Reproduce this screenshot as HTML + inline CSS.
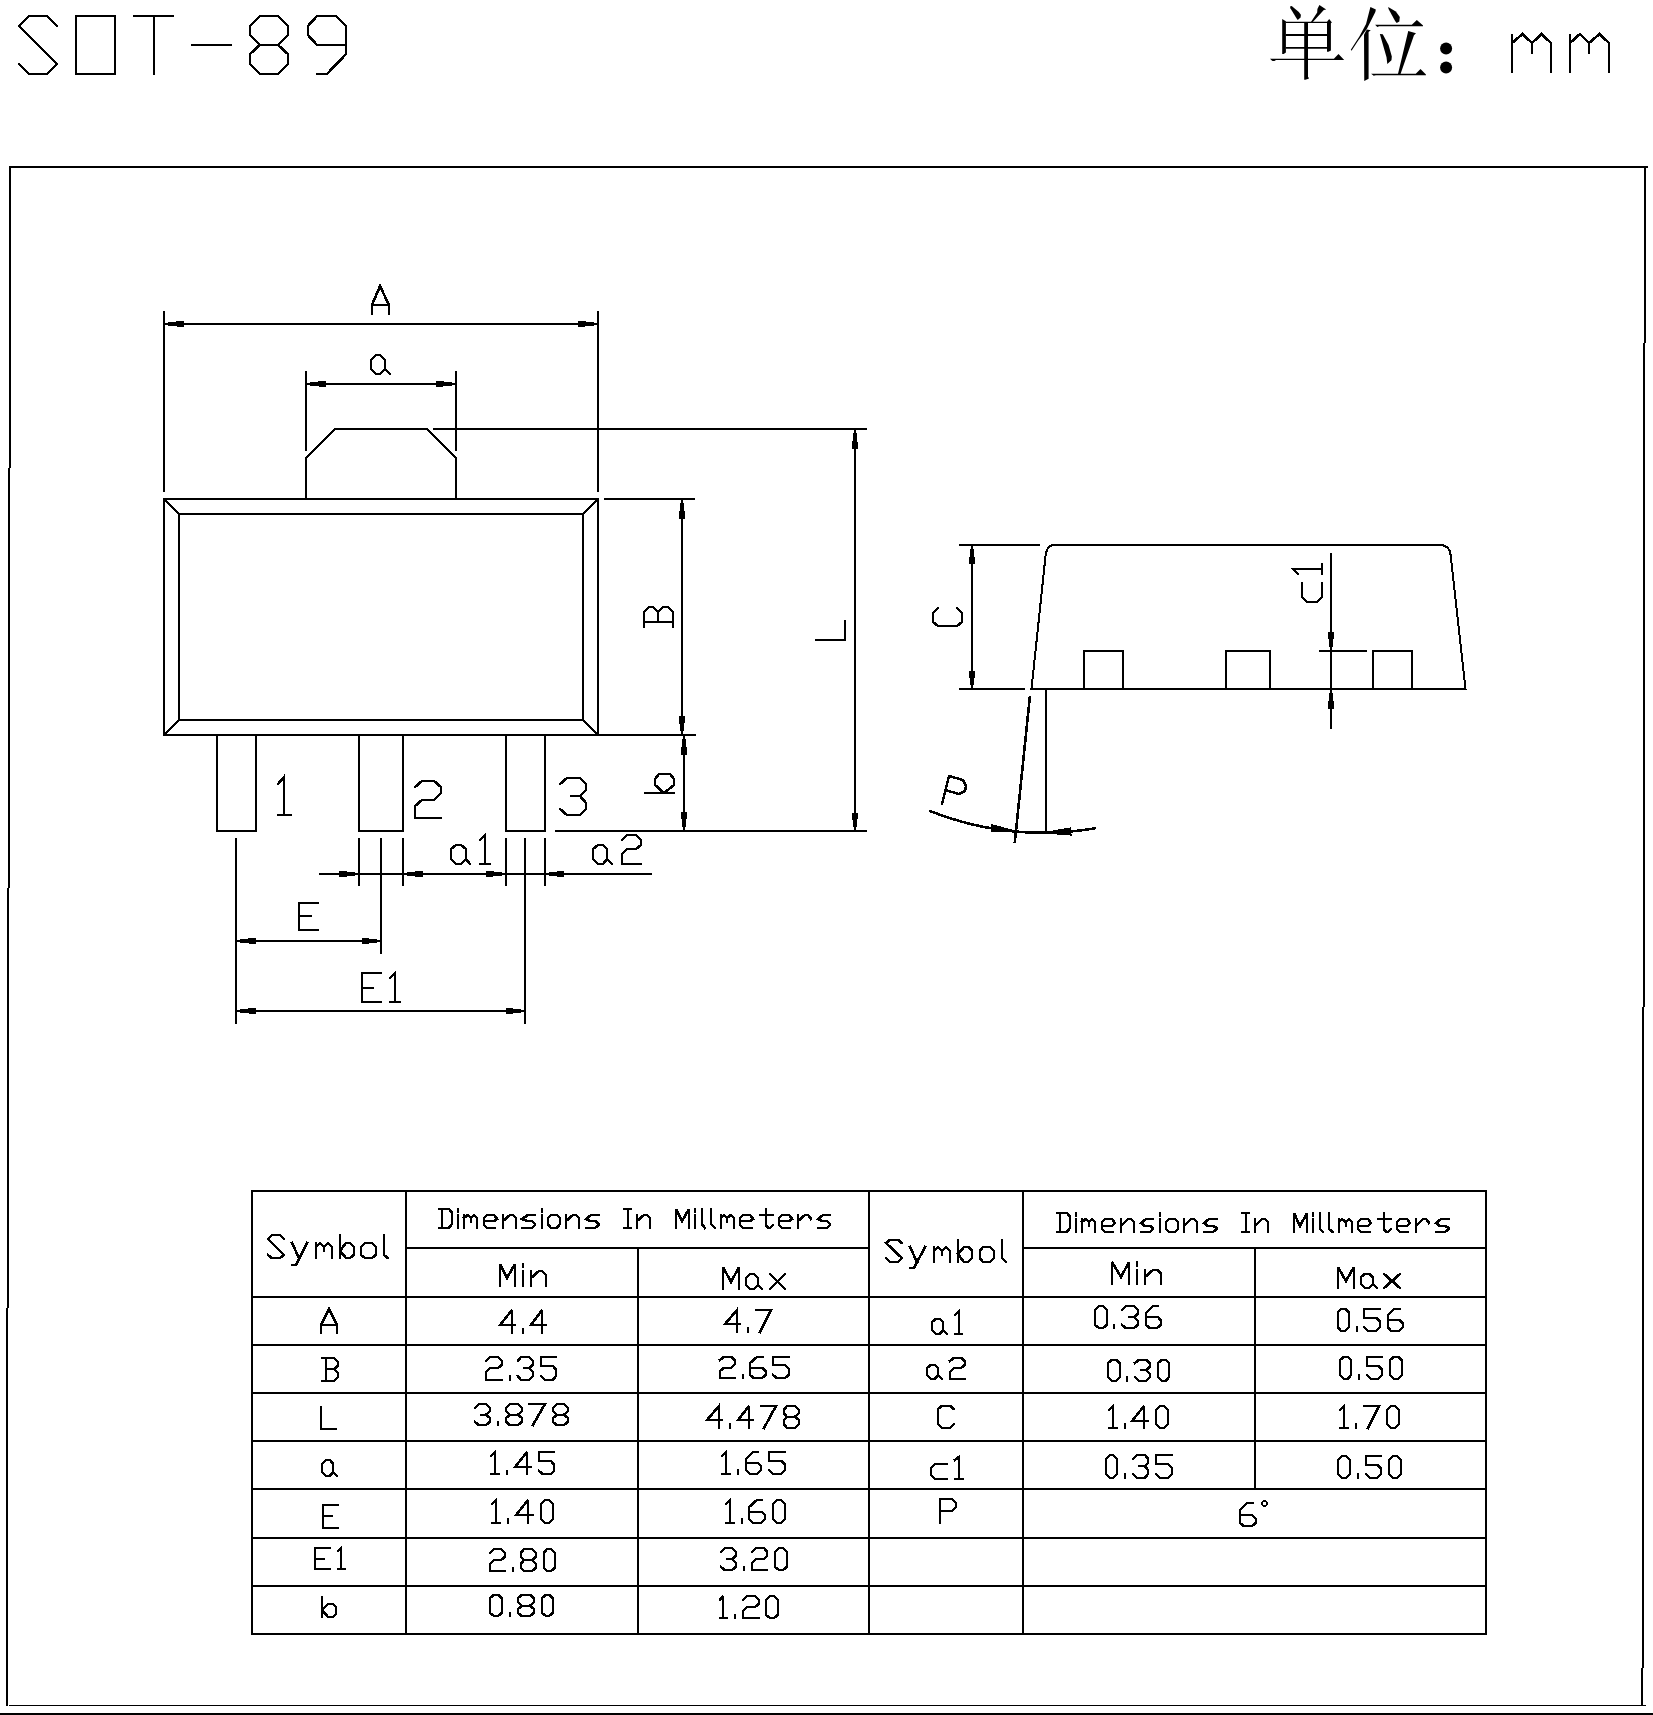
<!DOCTYPE html>
<html><head><meta charset="utf-8"><title>SOT-89</title>
<style>
html,body{margin:0;padding:0;background:#fff;}
body{width:1653px;height:1715px;overflow:hidden;font-family:"Liberation Sans",sans-serif;}
svg{display:block;}
</style></head><body>
<svg width="1653" height="1715" viewBox="0 0 1653 1715">
<rect width="1653" height="1715" fill="#fff"/>
<g fill="none" stroke="#000" stroke-miterlimit="3" shape-rendering="crispEdges">
<path d="M57 26 L47 16 L29 16 L19 26 L57 64 L47 74 L29 74 L19 64" stroke-width="2.6" stroke-linecap="square" stroke-linejoin="miter"/>
<path d="M76 74 L76 16 L115 16 L115 74 L76 74" stroke-width="2.6" stroke-linecap="square" stroke-linejoin="miter"/>
<path d="M134 16 L173 16" stroke-width="2.6" stroke-linecap="square" stroke-linejoin="miter"/>
<path d="M154 16 L154 74" stroke-width="2.6" stroke-linecap="square" stroke-linejoin="miter"/>
<path d="M192 45 L231 45" stroke-width="2.6" stroke-linecap="square" stroke-linejoin="miter"/>
<path d="M260 45 L250 35 L250 26 L260 16 L278 16 L288 26 L288 35 L278 45 L260 45 L250 54 L250 64 L260 74 L278 74 L288 64 L288 54 L278 45" stroke-width="2.6" stroke-linecap="square" stroke-linejoin="miter"/>
<path d="M346 45 L317 45 L308 35 L308 26 L317 16 L336 16 L346 26 L346 54 L327 74 L317 74" stroke-width="2.6" stroke-linecap="square" stroke-linejoin="miter"/>
<path d="M1512 72.5 L1512 33.5" stroke-width="2.6" stroke-linecap="butt" stroke-linejoin="miter"/>
<path d="M1512 43 L1522.5 34 L1532 43 L1541.5 34 L1551 43 L1551 72.5" stroke-width="2.6" stroke-linecap="butt" stroke-linejoin="miter"/>
<path d="M1532 43 L1532 53.5" stroke-width="2.6" stroke-linecap="butt" stroke-linejoin="miter"/>
<path d="M1570 72.5 L1570 33.5" stroke-width="2.6" stroke-linecap="butt" stroke-linejoin="miter"/>
<path d="M1570 43 L1580 34 L1589 43 L1599.5 34 L1609 43 L1609 72.5" stroke-width="2.6" stroke-linecap="butt" stroke-linejoin="miter"/>
<path d="M1589 43 L1589 53.5" stroke-width="2.6" stroke-linecap="butt" stroke-linejoin="miter"/>
<path d="M9 167 L1648 167" stroke-width="2.6" stroke-linecap="butt" stroke-linejoin="miter"/>
<path d="M10 166 L10 468" stroke-width="2.6" stroke-linecap="butt" stroke-linejoin="miter"/>
<path d="M9 468 L9 888" stroke-width="2.6" stroke-linecap="butt" stroke-linejoin="miter"/>
<path d="M8 888 L8 1308" stroke-width="2.6" stroke-linecap="butt" stroke-linejoin="miter"/>
<path d="M7 1308 L7 1706" stroke-width="2.6" stroke-linecap="butt" stroke-linejoin="miter"/>
<path d="M1645 166 L1645 343" stroke-width="2.6" stroke-linecap="butt" stroke-linejoin="miter"/>
<path d="M1644 343 L1644 1007" stroke-width="2.6" stroke-linecap="butt" stroke-linejoin="miter"/>
<path d="M1643 1007 L1643 1668" stroke-width="2.6" stroke-linecap="butt" stroke-linejoin="miter"/>
<path d="M1642 1668 L1642 1706" stroke-width="2.6" stroke-linecap="butt" stroke-linejoin="miter"/>
<path d="M9 1705.5 L1646 1705.5" stroke-width="1" stroke-linecap="butt" stroke-linejoin="miter"/>
<rect x="0" y="1713" width="1653" height="2" fill="#000" stroke="none"/>
<path d="M164 499 L598 499 L598 735 L164 735Z" stroke-width="2.6" stroke-linecap="butt" stroke-linejoin="miter"/>
<path d="M179 514 L583 514 L583 720 L179 720Z" stroke-width="2.6" stroke-linecap="butt" stroke-linejoin="miter"/>
<path d="M164 499 L179 514" stroke-width="2.6" stroke-linecap="butt" stroke-linejoin="miter"/>
<path d="M598 499 L583 514" stroke-width="2.6" stroke-linecap="butt" stroke-linejoin="miter"/>
<path d="M164 735 L179 720" stroke-width="2.6" stroke-linecap="butt" stroke-linejoin="miter"/>
<path d="M598 735 L583 720" stroke-width="2.6" stroke-linecap="butt" stroke-linejoin="miter"/>
<path d="M306 499 L306 458 L335 429 L427 429 L456 458 L456 499" stroke-width="2.6" stroke-linecap="butt" stroke-linejoin="miter"/>
<path d="M217 735 L217 831 L256 831 L256 735" stroke-width="2.6" stroke-linecap="butt" stroke-linejoin="miter"/>
<path d="M359 735 L359 831 L403 831 L403 735" stroke-width="2.6" stroke-linecap="butt" stroke-linejoin="miter"/>
<path d="M506 735 L506 831 L545 831 L545 735" stroke-width="2.6" stroke-linecap="butt" stroke-linejoin="miter"/>
<path d="M164 311 L164 492" stroke-width="2.6" stroke-linecap="butt" stroke-linejoin="miter"/>
<path d="M598 311 L598 492" stroke-width="2.6" stroke-linecap="butt" stroke-linejoin="miter"/>
<path d="M164 324 L598 324" stroke-width="2.6" stroke-linecap="butt" stroke-linejoin="miter"/>
<path d="M164 325 L184 327.4 L184 320.6 L164 323Z" fill="#000" stroke="none"/>
<path d="M598 323 L578 320.6 L578 327.4 L598 325Z" fill="#000" stroke="none"/>
<path d="M372 314 L372 305 L380 286 L389 305 L389 314" stroke-width="2.6" stroke-linecap="square" stroke-linejoin="miter"/>
<path d="M372 305 L389 305" stroke-width="2.6" stroke-linecap="square" stroke-linejoin="miter"/>
<path d="M306 371 L306 451" stroke-width="2.6" stroke-linecap="butt" stroke-linejoin="miter"/>
<path d="M456 371 L456 451" stroke-width="2.6" stroke-linecap="butt" stroke-linejoin="miter"/>
<path d="M306 384 L456 384" stroke-width="2.6" stroke-linecap="butt" stroke-linejoin="miter"/>
<path d="M306 385 L326 387.4 L326 380.6 L306 383Z" fill="#000" stroke="none"/>
<path d="M456 383 L436 380.6 L436 387.4 L456 385Z" fill="#000" stroke="none"/>
<path d="M385 369 L385 360 L380 355 L376 355 L371 360 L371 369 L376 374 L380 374 L385 369 L390 374" stroke-width="2.6" stroke-linecap="square" stroke-linejoin="miter"/>
<path d="M433 429 L867 429" stroke-width="2.6" stroke-linecap="butt" stroke-linejoin="miter"/>
<path d="M554.5 831 L867 831" stroke-width="2.6" stroke-linecap="butt" stroke-linejoin="miter"/>
<path d="M855 429 L855 831" stroke-width="2.6" stroke-linecap="butt" stroke-linejoin="miter"/>
<path d="M854 429 L851.6 449 L858.4 449 L856 429Z" fill="#000" stroke="none"/>
<path d="M856 831 L858.4 812.5 L851.6 812.5 L854 831Z" fill="#000" stroke="none"/>
<path d="M816 640 L845 640 L845 621" stroke-width="2.6" stroke-linecap="square" stroke-linejoin="miter"/>
<path d="M604 499 L695 499" stroke-width="2.6" stroke-linecap="butt" stroke-linejoin="miter"/>
<path d="M598 735 L696 735" stroke-width="2.6" stroke-linecap="butt" stroke-linejoin="miter"/>
<path d="M682 499 L682 735" stroke-width="2.6" stroke-linecap="butt" stroke-linejoin="miter"/>
<path d="M681 499 L678.6 518.5 L685.4 518.5 L683 499Z" fill="#000" stroke="none"/>
<path d="M683 735 L685.4 716.4 L678.6 716.4 L681 735Z" fill="#000" stroke="none"/>
<path d="M673 622 L644 622" stroke-width="2.6" stroke-linecap="square" stroke-linejoin="miter"/>
<path d="M644 627 L644 612 L649 607 L653 607 L658 612 L658 622" stroke-width="2.6" stroke-linecap="square" stroke-linejoin="miter"/>
<path d="M658 612 L663 607 L668 607 L673 612 L673 627" stroke-width="2.6" stroke-linecap="square" stroke-linejoin="miter"/>
<path d="M684 735 L684 831" stroke-width="2.6" stroke-linecap="butt" stroke-linejoin="miter"/>
<path d="M683 735 L680.6 754.5 L687.4 754.5 L685 735Z" fill="#000" stroke="none"/>
<path d="M685 831 L687.4 812.2 L680.6 812.2 L683 831Z" fill="#000" stroke="none"/>
<path d="M645 793 L674 793" stroke-width="2.6" stroke-linecap="square" stroke-linejoin="miter"/>
<path d="M664 793 L655 785 L655 779 L659 774 L670 774 L674 779 L674 785 L664 793" stroke-width="2.6" stroke-linecap="square" stroke-linejoin="miter"/>
<path d="M278 784 L284 777 L284 815" stroke-width="2.6" stroke-linecap="square" stroke-linejoin="miter"/>
<path d="M278 815 L291 815" stroke-width="2.6" stroke-linecap="square" stroke-linejoin="miter"/>
<path d="M415 787 L422 781 L434 781 L441 787 L441 793 L434 800 L422 800 L415 806 L415 818 L441 818" stroke-width="2.6" stroke-linecap="square" stroke-linejoin="miter"/>
<path d="M560 784 L567 778 L580 778 L586 784 L586 790 L580 796 L571 796" stroke-width="2.6" stroke-linecap="square" stroke-linejoin="miter"/>
<path d="M580 796 L586 803 L586 809 L580 815 L567 815 L560 809" stroke-width="2.6" stroke-linecap="square" stroke-linejoin="miter"/>
<path d="M236 838 L236 1024" stroke-width="2.6" stroke-linecap="butt" stroke-linejoin="miter"/>
<path d="M359 838 L359 886" stroke-width="2.6" stroke-linecap="butt" stroke-linejoin="miter"/>
<path d="M381 838 L381 953.5" stroke-width="2.6" stroke-linecap="butt" stroke-linejoin="miter"/>
<path d="M403 838 L403 886" stroke-width="2.6" stroke-linecap="butt" stroke-linejoin="miter"/>
<path d="M506 838 L506 886" stroke-width="2.6" stroke-linecap="butt" stroke-linejoin="miter"/>
<path d="M525 838 L525 1024" stroke-width="2.6" stroke-linecap="butt" stroke-linejoin="miter"/>
<path d="M545 838 L545 886" stroke-width="2.6" stroke-linecap="butt" stroke-linejoin="miter"/>
<path d="M319 874 L652 874" stroke-width="2.6" stroke-linecap="butt" stroke-linejoin="miter"/>
<path d="M359 873 L339.4 870.6 L339.4 877.4 L359 875Z" fill="#000" stroke="none"/>
<path d="M403 875 L422.7 877.4 L422.7 870.6 L403 873Z" fill="#000" stroke="none"/>
<path d="M506 873 L486 870.6 L486 877.4 L506 875Z" fill="#000" stroke="none"/>
<path d="M545 875 L564 877.4 L564 870.6 L545 873Z" fill="#000" stroke="none"/>
<path d="M466 859 L466 849 L461 845 L456 845 L451 849 L451 859 L456 864 L461 864 L466 859 L470 864" stroke-width="2.6" stroke-linecap="square" stroke-linejoin="miter"/>
<path d="M480 840 L485 835 L485 864" stroke-width="2.6" stroke-linecap="square" stroke-linejoin="miter"/>
<path d="M480 864 L490 864" stroke-width="2.6" stroke-linecap="square" stroke-linejoin="miter"/>
<path d="M607 859 L607 849 L603 845 L598 845 L593 849 L593 859 L598 864 L603 864 L607 859 L612 864" stroke-width="2.6" stroke-linecap="square" stroke-linejoin="miter"/>
<path d="M622 840 L627 835 L636 835 L641 840 L641 845 L636 849 L627 849 L622 854 L622 864 L641 864" stroke-width="2.6" stroke-linecap="square" stroke-linejoin="miter"/>
<path d="M236 941 L381 941" stroke-width="2.6" stroke-linecap="butt" stroke-linejoin="miter"/>
<path d="M236 942 L256 944.4 L256 937.6 L236 940Z" fill="#000" stroke="none"/>
<path d="M381 940 L361.5 937.6 L361.5 944.4 L381 942Z" fill="#000" stroke="none"/>
<path d="M318 903 L299 903 L299 930 L318 930" stroke-width="2.6" stroke-linecap="square" stroke-linejoin="miter"/>
<path d="M299 916 L311 916" stroke-width="2.6" stroke-linecap="square" stroke-linejoin="miter"/>
<path d="M236 1011 L525 1011" stroke-width="2.6" stroke-linecap="butt" stroke-linejoin="miter"/>
<path d="M236 1012 L256 1014.4 L256 1007.6 L236 1010Z" fill="#000" stroke="none"/>
<path d="M525 1010 L505.5 1007.6 L505.5 1014.4 L525 1012Z" fill="#000" stroke="none"/>
<path d="M381 973 L362 973 L362 1002 L381 1002" stroke-width="2.6" stroke-linecap="square" stroke-linejoin="miter"/>
<path d="M362 988 L373 988" stroke-width="2.6" stroke-linecap="square" stroke-linejoin="miter"/>
<path d="M390 978 L395 973 L395 1002" stroke-width="2.6" stroke-linecap="square" stroke-linejoin="miter"/>
<path d="M390 1002 L400 1002" stroke-width="2.6" stroke-linecap="square" stroke-linejoin="miter"/>
<path d="M1054 545 L1441 545 Q1450.6 545.6 1451 558 L1465.5 689 L1030.3 689 M1031.5 689 L1045.3 558 Q1045.8 545.6 1054 545" stroke-width="2" stroke-linejoin="miter"/>
<path d="M1084 689 L1084 651 L1123 651 L1123 689" stroke-width="2.6" stroke-linecap="butt" stroke-linejoin="miter"/>
<path d="M1226 689 L1226 651 L1270 651 L1270 689" stroke-width="2.6" stroke-linecap="butt" stroke-linejoin="miter"/>
<path d="M1373 689 L1373 651 L1412 651 L1412 689" stroke-width="2.6" stroke-linecap="butt" stroke-linejoin="miter"/>
<path d="M959 545 L1040 545" stroke-width="2.6" stroke-linecap="butt" stroke-linejoin="miter"/>
<path d="M959 689 L1024.5 689" stroke-width="2.6" stroke-linecap="butt" stroke-linejoin="miter"/>
<path d="M972 545 L972 689" stroke-width="2.6" stroke-linecap="butt" stroke-linejoin="miter"/>
<path d="M971 545 L968.6 564.2 L975.4 564.2 L973 545Z" fill="#000" stroke="none"/>
<path d="M973 689 L975.4 670.8 L968.6 670.8 L971 689Z" fill="#000" stroke="none"/>
<path d="M938 608 L933 613 L933 622 L938 626 L957 626 L962 622 L962 613 L957 608" stroke-width="2.6" stroke-linecap="square" stroke-linejoin="miter"/>
<path d="M1319 651 L1367 651" stroke-width="2.6" stroke-linecap="butt" stroke-linejoin="miter"/>
<path d="M1331 553.4 L1331 728.5" stroke-width="2.6" stroke-linecap="butt" stroke-linejoin="miter"/>
<path d="M1332 651 L1334.4 631.6 L1327.6 631.6 L1330 651Z" fill="#000" stroke="none"/>
<path d="M1330 689 L1327.6 708.6 L1334.4 708.6 L1332 689Z" fill="#000" stroke="none"/>
<path d="M1302 583 L1302 597 L1307 602 L1317 602 L1322 597 L1322 583" stroke-width="2.6" stroke-linecap="square" stroke-linejoin="miter"/>
<path d="M1298 574 L1293 569 L1322 569" stroke-width="2.6" stroke-linecap="square" stroke-linejoin="miter"/>
<path d="M1322 574 L1322 564" stroke-width="2.6" stroke-linecap="square" stroke-linejoin="miter"/>
<path d="M1029.9 696.2 L1014.7 843.3" stroke-width="2.6" stroke-linecap="butt" stroke-linejoin="miter"/>
<path d="M1046 689 L1046 833" stroke-width="2.6" stroke-linecap="butt" stroke-linejoin="miter"/>
<path d="M929.44 810.69 L932.73 812 L936.04 813.27 L939.36 814.5 L942.7 815.69 L946.05 816.84 L949.41 817.95 L952.78 819.02 L956.17 820.05 L959.57 821.05 L962.98 822 L966.4 822.92 L969.83 823.79 L973.27 824.62 L976.72 825.42 L980.18 826.17 L983.65 826.88 L987.13 827.55 L990.61 828.19 L994.1 828.78 L997.6 829.33 L1001.11 829.84 L1004.62 830.3 L1008.13 830.73 L1011.65 831.12 L1015.18 831.46 L1018.7 831.77 L1022.24 832.03 L1025.77 832.25 L1029.31 832.43 L1032.84 832.57 L1036.38 832.67 L1039.92 832.72 L1043.47 832.74 L1047.01 832.71 L1050.55 832.65 L1054.09 832.54 L1057.62 832.39 L1061.16 832.19 L1064.69 831.96 L1068.22 831.69 L1071.75 831.37 L1075.27 831.02 L1078.79 830.62 L1082.31 830.18 L1085.81 829.7 L1089.32 829.18 L1092.81 828.62 L1096.3 828.02" stroke-width="2.6" stroke-linecap="butt" stroke-linejoin="round"/>
<path d="M1015.43 830.48 L991.55 824.09 L990.45 832.42 L1015.17 832.47Z" fill="#000" stroke="none"/>
<path d="M1046.05 833.72 L1071.62 835.6 L1071.18 827.21 L1045.95 831.73Z" fill="#000" stroke="none"/>
<path d="M942 804 L949 776 L963 780 L966 786 L965 791 L959 794 L945 790" stroke-width="2.6" stroke-linecap="square" stroke-linejoin="miter"/>
<path d="M252 1191 L1486 1191 L1486 1634 L252 1634Z" stroke-width="2.6" stroke-linecap="butt" stroke-linejoin="miter"/>
<path d="M406 1191 L406 1634" stroke-width="2.6" stroke-linecap="butt" stroke-linejoin="miter"/>
<path d="M869 1191 L869 1634" stroke-width="2.6" stroke-linecap="butt" stroke-linejoin="miter"/>
<path d="M1023 1191 L1023 1634" stroke-width="2.6" stroke-linecap="butt" stroke-linejoin="miter"/>
<path d="M638 1248 L638 1634" stroke-width="2.6" stroke-linecap="butt" stroke-linejoin="miter"/>
<path d="M1255 1248 L1255 1489" stroke-width="2.6" stroke-linecap="butt" stroke-linejoin="miter"/>
<path d="M406 1248 L869 1248" stroke-width="2.6" stroke-linecap="butt" stroke-linejoin="miter"/>
<path d="M1023 1248 L1486 1248" stroke-width="2.6" stroke-linecap="butt" stroke-linejoin="miter"/>
<path d="M252 1297 L1486 1297" stroke-width="2.6" stroke-linecap="butt" stroke-linejoin="miter"/>
<path d="M252 1345 L1486 1345" stroke-width="2.6" stroke-linecap="butt" stroke-linejoin="miter"/>
<path d="M252 1393 L1486 1393" stroke-width="2.6" stroke-linecap="butt" stroke-linejoin="miter"/>
<path d="M252 1441 L1486 1441" stroke-width="2.6" stroke-linecap="butt" stroke-linejoin="miter"/>
<path d="M252 1489 L1486 1489" stroke-width="2.6" stroke-linecap="butt" stroke-linejoin="miter"/>
<path d="M252 1538 L1486 1538" stroke-width="2.6" stroke-linecap="butt" stroke-linejoin="miter"/>
<path d="M252 1586 L1486 1586" stroke-width="2.6" stroke-linecap="butt" stroke-linejoin="miter"/>
<path d="M284 1239 L280 1235 L272 1235 L268 1239 L284 1255 L280 1258 L272 1258 L268 1255" stroke-width="2.6" stroke-linecap="square" stroke-linejoin="miter"/>
<path d="M292 1243 L299 1258" stroke-width="2.6" stroke-linecap="square" stroke-linejoin="miter"/>
<path d="M307 1243 L296 1265 L292 1265" stroke-width="2.6" stroke-linecap="square" stroke-linejoin="miter"/>
<path d="M316 1258 L316 1243" stroke-width="2.6" stroke-linecap="square" stroke-linejoin="miter"/>
<path d="M316 1247 L320 1243 L324 1247 L328 1243 L332 1247 L332 1258" stroke-width="2.6" stroke-linecap="square" stroke-linejoin="miter"/>
<path d="M324 1247 L324 1251" stroke-width="2.6" stroke-linecap="square" stroke-linejoin="miter"/>
<path d="M340 1235 L340 1258" stroke-width="2.6" stroke-linecap="square" stroke-linejoin="miter"/>
<path d="M340 1251 L346 1243 L350 1243 L354 1247 L354 1255 L350 1258 L346 1258 L340 1251" stroke-width="2.6" stroke-linecap="square" stroke-linejoin="miter"/>
<path d="M365 1258 L361 1255 L361 1247 L365 1243 L372 1243 L376 1247 L376 1255 L372 1258 L365 1258" stroke-width="2.6" stroke-linecap="square" stroke-linejoin="miter"/>
<path d="M384 1235 L384 1255 L388 1258" stroke-width="2.6" stroke-linecap="square" stroke-linejoin="miter"/>
<path d="M442 1228 L442 1209" stroke-width="2.6" stroke-linecap="square" stroke-linejoin="miter"/>
<path d="M439 1209 L449 1209 L452 1213 L452 1224 L449 1228 L439 1228" stroke-width="2.6" stroke-linecap="square" stroke-linejoin="miter"/>
<path d="M458 1209 L458 1212" stroke-width="2.6" stroke-linecap="square" stroke-linejoin="miter"/>
<path d="M458 1215 L458 1228" stroke-width="2.6" stroke-linecap="square" stroke-linejoin="miter"/>
<path d="M464 1228 L464 1215" stroke-width="2.6" stroke-linecap="square" stroke-linejoin="miter"/>
<path d="M464 1218 L468 1215 L471 1218 L474 1215 L477 1218 L477 1228" stroke-width="2.6" stroke-linecap="square" stroke-linejoin="miter"/>
<path d="M471 1218 L471 1222" stroke-width="2.6" stroke-linecap="square" stroke-linejoin="miter"/>
<path d="M484 1221 L494 1221 L497 1219 L494 1215 L487 1215 L484 1218 L484 1225 L487 1228 L495 1228" stroke-width="2.6" stroke-linecap="square" stroke-linejoin="miter"/>
<path d="M503 1228 L503 1215" stroke-width="2.6" stroke-linecap="square" stroke-linejoin="miter"/>
<path d="M503 1221 L510 1215 L513 1215 L516 1218 L516 1228" stroke-width="2.6" stroke-linecap="square" stroke-linejoin="miter"/>
<path d="M535 1215 L528 1215 L522 1219 L527 1221 L532 1221 L535 1224 L535 1225 L532 1228 L522 1228" stroke-width="2.6" stroke-linecap="square" stroke-linejoin="miter"/>
<path d="M542 1209 L542 1212" stroke-width="2.6" stroke-linecap="square" stroke-linejoin="miter"/>
<path d="M542 1215 L542 1228" stroke-width="2.6" stroke-linecap="square" stroke-linejoin="miter"/>
<path d="M551 1228 L548 1224 L548 1218 L551 1215 L557 1215 L560 1218 L560 1224 L557 1228 L551 1228" stroke-width="2.6" stroke-linecap="square" stroke-linejoin="miter"/>
<path d="M566 1228 L566 1215" stroke-width="2.6" stroke-linecap="square" stroke-linejoin="miter"/>
<path d="M566 1221 L573 1215 L576 1215 L579 1218 L579 1228" stroke-width="2.6" stroke-linecap="square" stroke-linejoin="miter"/>
<path d="M599 1215 L591 1215 L586 1219 L590 1221 L595 1221 L599 1224 L599 1225 L595 1228 L586 1228" stroke-width="2.6" stroke-linecap="square" stroke-linejoin="miter"/>
<path d="M624 1209 L631 1209" stroke-width="2.6" stroke-linecap="square" stroke-linejoin="miter"/>
<path d="M628 1209 L628 1228" stroke-width="2.6" stroke-linecap="square" stroke-linejoin="miter"/>
<path d="M624 1228 L631 1228" stroke-width="2.6" stroke-linecap="square" stroke-linejoin="miter"/>
<path d="M637 1228 L637 1215" stroke-width="2.6" stroke-linecap="square" stroke-linejoin="miter"/>
<path d="M637 1221 L644 1215 L647 1215 L650 1218 L650 1228" stroke-width="2.6" stroke-linecap="square" stroke-linejoin="miter"/>
<path d="M676 1228 L676 1209 L682 1221 L689 1209 L689 1228" stroke-width="2.6" stroke-linecap="square" stroke-linejoin="miter"/>
<path d="M695 1209 L695 1212" stroke-width="2.6" stroke-linecap="square" stroke-linejoin="miter"/>
<path d="M695 1215 L695 1228" stroke-width="2.6" stroke-linecap="square" stroke-linejoin="miter"/>
<path d="M702 1209 L702 1224 L705 1228" stroke-width="2.6" stroke-linecap="square" stroke-linejoin="miter"/>
<path d="M711 1209 L711 1224 L715 1228" stroke-width="2.6" stroke-linecap="square" stroke-linejoin="miter"/>
<path d="M721 1228 L721 1215" stroke-width="2.6" stroke-linecap="square" stroke-linejoin="miter"/>
<path d="M721 1218 L724 1215 L727 1218 L731 1215 L734 1218 L734 1228" stroke-width="2.6" stroke-linecap="square" stroke-linejoin="miter"/>
<path d="M727 1218 L727 1222" stroke-width="2.6" stroke-linecap="square" stroke-linejoin="miter"/>
<path d="M740 1221 L750 1221 L753 1219 L750 1215 L743 1215 L740 1218 L740 1225 L743 1228 L752 1228" stroke-width="2.6" stroke-linecap="square" stroke-linejoin="miter"/>
<path d="M760 1215 L773 1215" stroke-width="2.6" stroke-linecap="square" stroke-linejoin="miter"/>
<path d="M766 1209 L766 1225 L768 1228 L770 1228 L773 1225" stroke-width="2.6" stroke-linecap="square" stroke-linejoin="miter"/>
<path d="M779 1221 L789 1221 L792 1219 L789 1215 L782 1215 L779 1218 L779 1225 L782 1228 L790 1228" stroke-width="2.6" stroke-linecap="square" stroke-linejoin="miter"/>
<path d="M798 1228 L798 1215" stroke-width="2.6" stroke-linecap="square" stroke-linejoin="miter"/>
<path d="M798 1221 L805 1215 L808 1215 L811 1219" stroke-width="2.6" stroke-linecap="square" stroke-linejoin="miter"/>
<path d="M830 1215 L823 1215 L818 1219 L822 1221 L827 1221 L830 1224 L830 1225 L827 1228 L818 1228" stroke-width="2.6" stroke-linecap="square" stroke-linejoin="miter"/>
<path d="M500 1286 L500 1264 L507 1278 L515 1264 L515 1286" stroke-width="2.6" stroke-linecap="square" stroke-linejoin="miter"/>
<path d="M523 1264 L523 1267" stroke-width="2.6" stroke-linecap="square" stroke-linejoin="miter"/>
<path d="M523 1271 L523 1286" stroke-width="2.6" stroke-linecap="square" stroke-linejoin="miter"/>
<path d="M531 1286 L531 1271" stroke-width="2.6" stroke-linecap="square" stroke-linejoin="miter"/>
<path d="M531 1278 L539 1271 L542 1271 L546 1275 L546 1286" stroke-width="2.6" stroke-linecap="square" stroke-linejoin="miter"/>
<path d="M723 1289 L723 1267 L731 1282 L739 1267 L739 1289" stroke-width="2.6" stroke-linecap="square" stroke-linejoin="miter"/>
<path d="M758 1285 L758 1278 L754 1274 L750 1274 L746 1278 L746 1285 L750 1289 L754 1289 L758 1285 L762 1289" stroke-width="2.6" stroke-linecap="square" stroke-linejoin="miter"/>
<path d="M770 1289 L785 1274" stroke-width="2.6" stroke-linecap="square" stroke-linejoin="miter"/>
<path d="M770 1274 L785 1289" stroke-width="2.6" stroke-linecap="square" stroke-linejoin="miter"/>
<path d="M902 1243 L898 1240 L890 1240 L886 1243 L902 1258 L898 1262 L890 1262 L886 1258" stroke-width="2.6" stroke-linecap="square" stroke-linejoin="miter"/>
<path d="M910 1247 L917 1262" stroke-width="2.6" stroke-linecap="square" stroke-linejoin="miter"/>
<path d="M925 1247 L914 1268 L910 1268" stroke-width="2.6" stroke-linecap="square" stroke-linejoin="miter"/>
<path d="M934 1262 L934 1247" stroke-width="2.6" stroke-linecap="square" stroke-linejoin="miter"/>
<path d="M934 1251 L938 1247 L942 1251 L946 1247 L950 1251 L950 1262" stroke-width="2.6" stroke-linecap="square" stroke-linejoin="miter"/>
<path d="M942 1251 L942 1255" stroke-width="2.6" stroke-linecap="square" stroke-linejoin="miter"/>
<path d="M958 1240 L958 1262" stroke-width="2.6" stroke-linecap="square" stroke-linejoin="miter"/>
<path d="M958 1254 L964 1247 L968 1247 L972 1250 L972 1258 L968 1262 L964 1262 L958 1254" stroke-width="2.6" stroke-linecap="square" stroke-linejoin="miter"/>
<path d="M983 1262 L980 1258 L980 1251 L983 1247 L990 1247 L994 1251 L994 1258 L990 1262 L983 1262" stroke-width="2.6" stroke-linecap="square" stroke-linejoin="miter"/>
<path d="M1002 1240 L1002 1258 L1006 1262" stroke-width="2.6" stroke-linecap="square" stroke-linejoin="miter"/>
<path d="M1060 1232 L1060 1213" stroke-width="2.6" stroke-linecap="square" stroke-linejoin="miter"/>
<path d="M1057 1213 L1067 1213 L1070 1217 L1070 1228 L1067 1232 L1057 1232" stroke-width="2.6" stroke-linecap="square" stroke-linejoin="miter"/>
<path d="M1076 1213 L1076 1216" stroke-width="2.6" stroke-linecap="square" stroke-linejoin="miter"/>
<path d="M1076 1219 L1076 1232" stroke-width="2.6" stroke-linecap="square" stroke-linejoin="miter"/>
<path d="M1082 1232 L1082 1219" stroke-width="2.6" stroke-linecap="square" stroke-linejoin="miter"/>
<path d="M1082 1222 L1086 1219 L1089 1222 L1092 1219 L1095 1222 L1095 1232" stroke-width="2.6" stroke-linecap="square" stroke-linejoin="miter"/>
<path d="M1089 1222 L1089 1226" stroke-width="2.6" stroke-linecap="square" stroke-linejoin="miter"/>
<path d="M1102 1226 L1112 1226 L1115 1223 L1112 1219 L1105 1219 L1102 1222 L1102 1229 L1105 1232 L1113 1232" stroke-width="2.6" stroke-linecap="square" stroke-linejoin="miter"/>
<path d="M1121 1232 L1121 1219" stroke-width="2.6" stroke-linecap="square" stroke-linejoin="miter"/>
<path d="M1121 1226 L1128 1219 L1131 1219 L1134 1222 L1134 1232" stroke-width="2.6" stroke-linecap="square" stroke-linejoin="miter"/>
<path d="M1153 1219 L1146 1219 L1141 1223 L1145 1226 L1150 1226 L1153 1228 L1153 1229 L1150 1232 L1141 1232" stroke-width="2.6" stroke-linecap="square" stroke-linejoin="miter"/>
<path d="M1160 1213 L1160 1216" stroke-width="2.6" stroke-linecap="square" stroke-linejoin="miter"/>
<path d="M1160 1219 L1160 1232" stroke-width="2.6" stroke-linecap="square" stroke-linejoin="miter"/>
<path d="M1169 1232 L1166 1229 L1166 1222 L1169 1219 L1175 1219 L1178 1222 L1178 1229 L1175 1232 L1169 1232" stroke-width="2.6" stroke-linecap="square" stroke-linejoin="miter"/>
<path d="M1184 1232 L1184 1219" stroke-width="2.6" stroke-linecap="square" stroke-linejoin="miter"/>
<path d="M1184 1226 L1191 1219 L1194 1219 L1197 1222 L1197 1232" stroke-width="2.6" stroke-linecap="square" stroke-linejoin="miter"/>
<path d="M1217 1219 L1209 1219 L1204 1223 L1208 1226 L1213 1226 L1217 1228 L1217 1229 L1213 1232 L1204 1232" stroke-width="2.6" stroke-linecap="square" stroke-linejoin="miter"/>
<path d="M1242 1213 L1249 1213" stroke-width="2.6" stroke-linecap="square" stroke-linejoin="miter"/>
<path d="M1246 1213 L1246 1232" stroke-width="2.6" stroke-linecap="square" stroke-linejoin="miter"/>
<path d="M1242 1232 L1249 1232" stroke-width="2.6" stroke-linecap="square" stroke-linejoin="miter"/>
<path d="M1255 1232 L1255 1219" stroke-width="2.6" stroke-linecap="square" stroke-linejoin="miter"/>
<path d="M1255 1226 L1262 1219 L1265 1219 L1268 1222 L1268 1232" stroke-width="2.6" stroke-linecap="square" stroke-linejoin="miter"/>
<path d="M1294 1232 L1294 1213 L1300 1226 L1307 1213 L1307 1232" stroke-width="2.6" stroke-linecap="square" stroke-linejoin="miter"/>
<path d="M1313 1213 L1313 1216" stroke-width="2.6" stroke-linecap="square" stroke-linejoin="miter"/>
<path d="M1313 1219 L1313 1232" stroke-width="2.6" stroke-linecap="square" stroke-linejoin="miter"/>
<path d="M1320 1213 L1320 1229 L1323 1232" stroke-width="2.6" stroke-linecap="square" stroke-linejoin="miter"/>
<path d="M1329 1213 L1329 1229 L1333 1232" stroke-width="2.6" stroke-linecap="square" stroke-linejoin="miter"/>
<path d="M1339 1232 L1339 1219" stroke-width="2.6" stroke-linecap="square" stroke-linejoin="miter"/>
<path d="M1339 1222 L1342 1219 L1346 1222 L1349 1219 L1352 1222 L1352 1232" stroke-width="2.6" stroke-linecap="square" stroke-linejoin="miter"/>
<path d="M1346 1222 L1346 1226" stroke-width="2.6" stroke-linecap="square" stroke-linejoin="miter"/>
<path d="M1358 1226 L1368 1226 L1371 1223 L1368 1219 L1361 1219 L1358 1222 L1358 1229 L1361 1232 L1370 1232" stroke-width="2.6" stroke-linecap="square" stroke-linejoin="miter"/>
<path d="M1378 1219 L1391 1219" stroke-width="2.6" stroke-linecap="square" stroke-linejoin="miter"/>
<path d="M1384 1213 L1384 1229 L1386 1232 L1388 1232 L1391 1229" stroke-width="2.6" stroke-linecap="square" stroke-linejoin="miter"/>
<path d="M1397 1226 L1407 1226 L1410 1223 L1407 1219 L1400 1219 L1397 1222 L1397 1229 L1400 1232 L1408 1232" stroke-width="2.6" stroke-linecap="square" stroke-linejoin="miter"/>
<path d="M1416 1232 L1416 1219" stroke-width="2.6" stroke-linecap="square" stroke-linejoin="miter"/>
<path d="M1416 1226 L1423 1219 L1426 1219 L1429 1223" stroke-width="2.6" stroke-linecap="square" stroke-linejoin="miter"/>
<path d="M1449 1219 L1441 1219 L1436 1223 L1440 1226 L1445 1226 L1449 1228 L1449 1229 L1445 1232 L1436 1232" stroke-width="2.6" stroke-linecap="square" stroke-linejoin="miter"/>
<path d="M1112 1284 L1112 1262 L1121 1277 L1129 1262 L1129 1284" stroke-width="2.6" stroke-linecap="square" stroke-linejoin="miter"/>
<path d="M1137 1262 L1137 1266" stroke-width="2.6" stroke-linecap="square" stroke-linejoin="miter"/>
<path d="M1137 1270 L1137 1284" stroke-width="2.6" stroke-linecap="square" stroke-linejoin="miter"/>
<path d="M1145 1284 L1145 1270" stroke-width="2.6" stroke-linecap="square" stroke-linejoin="miter"/>
<path d="M1145 1277 L1153 1270 L1157 1270 L1161 1273 L1161 1284" stroke-width="2.6" stroke-linecap="square" stroke-linejoin="miter"/>
<path d="M1338 1288 L1338 1267 L1346 1281 L1354 1267 L1354 1288" stroke-width="2.6" stroke-linecap="square" stroke-linejoin="miter"/>
<path d="M1373 1284 L1373 1277 L1369 1274 L1365 1274 L1361 1277 L1361 1284 L1365 1288 L1369 1288 L1373 1284 L1377 1288" stroke-width="2.6" stroke-linecap="square" stroke-linejoin="miter"/>
<path d="M1384 1288 L1400 1274" stroke-width="2.6" stroke-linecap="square" stroke-linejoin="miter"/>
<path d="M1384 1274 L1400 1288" stroke-width="2.6" stroke-linecap="square" stroke-linejoin="miter"/>
<path d="M321 1333 L321 1325 L329 1309 L337 1325 L337 1333" stroke-width="2.6" stroke-linecap="square" stroke-linejoin="miter"/>
<path d="M321 1325 L337 1325" stroke-width="2.6" stroke-linecap="square" stroke-linejoin="miter"/>
<path d="M326 1381 L326 1358" stroke-width="2.6" stroke-linecap="square" stroke-linejoin="miter"/>
<path d="M322 1358 L334 1358 L338 1362 L338 1366 L334 1369 L326 1369" stroke-width="2.6" stroke-linecap="square" stroke-linejoin="miter"/>
<path d="M334 1369 L338 1373 L338 1377 L334 1381 L322 1381" stroke-width="2.6" stroke-linecap="square" stroke-linejoin="miter"/>
<path d="M321 1407 L321 1429 L336 1429" stroke-width="2.6" stroke-linecap="square" stroke-linejoin="miter"/>
<path d="M333 1472 L333 1464 L330 1460 L326 1460 L322 1464 L322 1472 L326 1476 L330 1476 L333 1472 L337 1476" stroke-width="2.6" stroke-linecap="square" stroke-linejoin="miter"/>
<path d="M338 1505 L323 1505 L323 1528 L338 1528" stroke-width="2.6" stroke-linecap="square" stroke-linejoin="miter"/>
<path d="M323 1516 L332 1516" stroke-width="2.6" stroke-linecap="square" stroke-linejoin="miter"/>
<path d="M330 1548 L315 1548 L315 1569 L330 1569" stroke-width="2.6" stroke-linecap="square" stroke-linejoin="miter"/>
<path d="M315 1559 L324 1559" stroke-width="2.6" stroke-linecap="square" stroke-linejoin="miter"/>
<path d="M338 1551 L341 1548 L341 1569" stroke-width="2.6" stroke-linecap="square" stroke-linejoin="miter"/>
<path d="M338 1569 L345 1569" stroke-width="2.6" stroke-linecap="square" stroke-linejoin="miter"/>
<path d="M322 1597 L322 1617" stroke-width="2.6" stroke-linecap="square" stroke-linejoin="miter"/>
<path d="M322 1610 L328 1604 L333 1604 L336 1607 L336 1614 L333 1617 L328 1617 L322 1610" stroke-width="2.6" stroke-linecap="square" stroke-linejoin="miter"/>
<path d="M512 1333 L512 1310 L500 1325 L515 1325" stroke-width="2.6" stroke-linecap="square" stroke-linejoin="miter"/>
<path d="M523 1333 L523 1329" stroke-width="2.6" stroke-linecap="square" stroke-linejoin="miter"/>
<path d="M542 1333 L542 1310 L531 1325 L546 1325" stroke-width="2.6" stroke-linecap="square" stroke-linejoin="miter"/>
<path d="M486 1361 L490 1357 L498 1357 L502 1361 L502 1365 L498 1368 L490 1368 L486 1372 L486 1380 L502 1380" stroke-width="2.6" stroke-linecap="square" stroke-linejoin="miter"/>
<path d="M510 1380 L510 1376" stroke-width="2.6" stroke-linecap="square" stroke-linejoin="miter"/>
<path d="M518 1361 L521 1357 L529 1357 L533 1361 L533 1365 L529 1368 L524 1368" stroke-width="2.6" stroke-linecap="square" stroke-linejoin="miter"/>
<path d="M529 1368 L533 1372 L533 1376 L529 1380 L521 1380 L518 1376" stroke-width="2.6" stroke-linecap="square" stroke-linejoin="miter"/>
<path d="M556 1357 L541 1357 L541 1366 L553 1366 L556 1370 L556 1376 L553 1380 L545 1380 L541 1376" stroke-width="2.6" stroke-linecap="square" stroke-linejoin="miter"/>
<path d="M475 1408 L479 1404 L486 1404 L490 1408 L490 1411 L486 1415 L481 1415" stroke-width="2.6" stroke-linecap="square" stroke-linejoin="miter"/>
<path d="M486 1415 L490 1418 L490 1422 L486 1425 L479 1425 L475 1422" stroke-width="2.6" stroke-linecap="square" stroke-linejoin="miter"/>
<path d="M498 1425 L498 1422" stroke-width="2.6" stroke-linecap="square" stroke-linejoin="miter"/>
<path d="M510 1415 L506 1411 L506 1408 L510 1404 L518 1404 L522 1408 L522 1411 L518 1415 L510 1415 L506 1418 L506 1422 L510 1425 L518 1425 L522 1422 L522 1418 L518 1415" stroke-width="2.6" stroke-linecap="square" stroke-linejoin="miter"/>
<path d="M529 1404 L545 1404 L533 1425" stroke-width="2.6" stroke-linecap="square" stroke-linejoin="miter"/>
<path d="M557 1415 L553 1411 L553 1408 L557 1404 L564 1404 L568 1408 L568 1411 L564 1415 L557 1415 L553 1418 L553 1422 L557 1425 L564 1425 L568 1422 L568 1418 L564 1415" stroke-width="2.6" stroke-linecap="square" stroke-linejoin="miter"/>
<path d="M491 1456 L495 1452 L495 1474" stroke-width="2.6" stroke-linecap="square" stroke-linejoin="miter"/>
<path d="M491 1474 L499 1474" stroke-width="2.6" stroke-linecap="square" stroke-linejoin="miter"/>
<path d="M507 1474 L507 1471" stroke-width="2.6" stroke-linecap="square" stroke-linejoin="miter"/>
<path d="M527 1474 L527 1452 L515 1467 L531 1467" stroke-width="2.6" stroke-linecap="square" stroke-linejoin="miter"/>
<path d="M554 1452 L539 1452 L539 1461 L551 1461 L554 1465 L554 1471 L551 1474 L543 1474 L539 1471" stroke-width="2.6" stroke-linecap="square" stroke-linejoin="miter"/>
<path d="M492 1504 L496 1500 L496 1523" stroke-width="2.6" stroke-linecap="square" stroke-linejoin="miter"/>
<path d="M492 1523 L500 1523" stroke-width="2.6" stroke-linecap="square" stroke-linejoin="miter"/>
<path d="M508 1523 L508 1519" stroke-width="2.6" stroke-linecap="square" stroke-linejoin="miter"/>
<path d="M528 1523 L528 1500 L516 1515 L533 1515" stroke-width="2.6" stroke-linecap="square" stroke-linejoin="miter"/>
<path d="M545 1523 L541 1519 L541 1504 L545 1500 L549 1500 L553 1504 L553 1519 L549 1523 L545 1523" stroke-width="2.6" stroke-linecap="square" stroke-linejoin="miter"/>
<path d="M490 1553 L494 1549 L501 1549 L505 1553 L505 1557 L501 1560 L494 1560 L490 1564 L490 1571 L505 1571" stroke-width="2.6" stroke-linecap="square" stroke-linejoin="miter"/>
<path d="M513 1571 L513 1568" stroke-width="2.6" stroke-linecap="square" stroke-linejoin="miter"/>
<path d="M524 1560 L521 1557 L521 1553 L524 1549 L532 1549 L536 1553 L536 1557 L532 1560 L524 1560 L521 1564 L521 1568 L524 1571 L532 1571 L536 1568 L536 1564 L532 1560" stroke-width="2.6" stroke-linecap="square" stroke-linejoin="miter"/>
<path d="M547 1571 L544 1568 L544 1553 L547 1549 L551 1549 L555 1553 L555 1568 L551 1571 L547 1571" stroke-width="2.6" stroke-linecap="square" stroke-linejoin="miter"/>
<path d="M494 1616 L490 1613 L490 1598 L494 1595 L498 1595 L502 1598 L502 1613 L498 1616 L494 1616" stroke-width="2.6" stroke-linecap="square" stroke-linejoin="miter"/>
<path d="M510 1616 L510 1613" stroke-width="2.6" stroke-linecap="square" stroke-linejoin="miter"/>
<path d="M522 1606 L518 1602 L518 1598 L522 1595 L530 1595 L534 1598 L534 1602 L530 1606 L522 1606 L518 1609 L518 1613 L522 1616 L530 1616 L534 1613 L534 1609 L530 1606" stroke-width="2.6" stroke-linecap="square" stroke-linejoin="miter"/>
<path d="M546 1616 L542 1613 L542 1598 L546 1595 L549 1595 L553 1598 L553 1613 L549 1616 L546 1616" stroke-width="2.6" stroke-linecap="square" stroke-linejoin="miter"/>
<path d="M737 1332 L737 1310 L725 1324 L740 1324" stroke-width="2.6" stroke-linecap="square" stroke-linejoin="miter"/>
<path d="M748 1332 L748 1328" stroke-width="2.6" stroke-linecap="square" stroke-linejoin="miter"/>
<path d="M756 1310 L771 1310 L760 1332" stroke-width="2.6" stroke-linecap="square" stroke-linejoin="miter"/>
<path d="M720 1360 L724 1357 L731 1357 L735 1360 L735 1364 L731 1368 L724 1368 L720 1371 L720 1378 L735 1378" stroke-width="2.6" stroke-linecap="square" stroke-linejoin="miter"/>
<path d="M743 1378 L743 1375" stroke-width="2.6" stroke-linecap="square" stroke-linejoin="miter"/>
<path d="M763 1357 L757 1357 L750 1363 L750 1375 L754 1378 L762 1378 L766 1375 L766 1371 L762 1368 L750 1368" stroke-width="2.6" stroke-linecap="square" stroke-linejoin="miter"/>
<path d="M789 1357 L773 1357 L773 1365 L785 1365 L789 1369 L789 1375 L785 1378 L777 1378 L773 1375" stroke-width="2.6" stroke-linecap="square" stroke-linejoin="miter"/>
<path d="M719 1428 L719 1406 L707 1420 L722 1420" stroke-width="2.6" stroke-linecap="square" stroke-linejoin="miter"/>
<path d="M730 1428 L730 1424" stroke-width="2.6" stroke-linecap="square" stroke-linejoin="miter"/>
<path d="M749 1428 L749 1406 L738 1420 L753 1420" stroke-width="2.6" stroke-linecap="square" stroke-linejoin="miter"/>
<path d="M761 1406 L776 1406 L764 1428" stroke-width="2.6" stroke-linecap="square" stroke-linejoin="miter"/>
<path d="M787 1417 L784 1413 L784 1410 L787 1406 L795 1406 L799 1410 L799 1413 L795 1417 L787 1417 L784 1420 L784 1424 L787 1428 L795 1428 L799 1424 L799 1420 L795 1417" stroke-width="2.6" stroke-linecap="square" stroke-linejoin="miter"/>
<path d="M722 1456 L726 1452 L726 1474" stroke-width="2.6" stroke-linecap="square" stroke-linejoin="miter"/>
<path d="M722 1474 L730 1474" stroke-width="2.6" stroke-linecap="square" stroke-linejoin="miter"/>
<path d="M738 1474 L738 1470" stroke-width="2.6" stroke-linecap="square" stroke-linejoin="miter"/>
<path d="M758 1452 L753 1452 L746 1459 L746 1470 L750 1474 L757 1474 L761 1470 L761 1466 L758 1463 L746 1463" stroke-width="2.6" stroke-linecap="square" stroke-linejoin="miter"/>
<path d="M785 1452 L769 1452 L769 1461 L781 1461 L785 1464 L785 1470 L781 1474 L773 1474 L769 1470" stroke-width="2.6" stroke-linecap="square" stroke-linejoin="miter"/>
<path d="M726 1504 L730 1500 L730 1523" stroke-width="2.6" stroke-linecap="square" stroke-linejoin="miter"/>
<path d="M726 1523 L734 1523" stroke-width="2.6" stroke-linecap="square" stroke-linejoin="miter"/>
<path d="M742 1523 L742 1519" stroke-width="2.6" stroke-linecap="square" stroke-linejoin="miter"/>
<path d="M762 1500 L757 1500 L749 1507 L749 1519 L753 1523 L761 1523 L765 1519 L765 1515 L762 1512 L749 1512" stroke-width="2.6" stroke-linecap="square" stroke-linejoin="miter"/>
<path d="M777 1523 L773 1519 L773 1504 L777 1500 L781 1500 L785 1504 L785 1519 L781 1523 L777 1523" stroke-width="2.6" stroke-linecap="square" stroke-linejoin="miter"/>
<path d="M721 1552 L725 1548 L732 1548 L736 1552 L736 1556 L732 1559 L727 1559" stroke-width="2.6" stroke-linecap="square" stroke-linejoin="miter"/>
<path d="M732 1559 L736 1563 L736 1567 L732 1570 L725 1570 L721 1567" stroke-width="2.6" stroke-linecap="square" stroke-linejoin="miter"/>
<path d="M744 1570 L744 1567" stroke-width="2.6" stroke-linecap="square" stroke-linejoin="miter"/>
<path d="M752 1552 L756 1548 L764 1548 L767 1552 L767 1556 L764 1559 L756 1559 L752 1563 L752 1570 L767 1570" stroke-width="2.6" stroke-linecap="square" stroke-linejoin="miter"/>
<path d="M779 1570 L775 1567 L775 1552 L779 1548 L783 1548 L787 1552 L787 1567 L783 1570 L779 1570" stroke-width="2.6" stroke-linecap="square" stroke-linejoin="miter"/>
<path d="M720 1600 L723 1596 L723 1618" stroke-width="2.6" stroke-linecap="square" stroke-linejoin="miter"/>
<path d="M720 1618 L727 1618" stroke-width="2.6" stroke-linecap="square" stroke-linejoin="miter"/>
<path d="M735 1618 L735 1615" stroke-width="2.6" stroke-linecap="square" stroke-linejoin="miter"/>
<path d="M743 1600 L747 1596 L755 1596 L759 1600 L759 1604 L755 1607 L747 1607 L743 1611 L743 1618 L759 1618" stroke-width="2.6" stroke-linecap="square" stroke-linejoin="miter"/>
<path d="M770 1618 L766 1615 L766 1600 L770 1596 L774 1596 L778 1600 L778 1615 L774 1618 L770 1618" stroke-width="2.6" stroke-linecap="square" stroke-linejoin="miter"/>
<path d="M943 1330 L943 1322 L940 1319 L936 1319 L932 1322 L932 1330 L936 1334 L940 1334 L943 1330 L947 1334" stroke-width="2.6" stroke-linecap="square" stroke-linejoin="miter"/>
<path d="M955 1315 L959 1311 L959 1334" stroke-width="2.6" stroke-linecap="square" stroke-linejoin="miter"/>
<path d="M955 1334 L962 1334" stroke-width="2.6" stroke-linecap="square" stroke-linejoin="miter"/>
<path d="M938 1375 L938 1368 L935 1365 L931 1365 L927 1368 L927 1375 L931 1379 L935 1379 L938 1375 L942 1379" stroke-width="2.6" stroke-linecap="square" stroke-linejoin="miter"/>
<path d="M950 1361 L954 1358 L961 1358 L965 1361 L965 1365 L961 1368 L954 1368 L950 1372 L950 1379 L965 1379" stroke-width="2.6" stroke-linecap="square" stroke-linejoin="miter"/>
<path d="M954 1409 L950 1406 L942 1406 L938 1409 L938 1424 L942 1428 L950 1428 L954 1424" stroke-width="2.6" stroke-linecap="square" stroke-linejoin="miter"/>
<path d="M947 1464 L935 1464 L931 1468 L931 1475 L935 1479 L947 1479" stroke-width="2.6" stroke-linecap="square" stroke-linejoin="miter"/>
<path d="M955 1460 L959 1457 L959 1479" stroke-width="2.6" stroke-linecap="square" stroke-linejoin="miter"/>
<path d="M955 1479 L963 1479" stroke-width="2.6" stroke-linecap="square" stroke-linejoin="miter"/>
<path d="M940 1523 L940 1499 L952 1499 L956 1503 L956 1507 L952 1511 L940 1511" stroke-width="2.6" stroke-linecap="square" stroke-linejoin="miter"/>
<path d="M1099 1328 L1095 1325 L1095 1310 L1099 1306 L1103 1306 L1107 1310 L1107 1325 L1103 1328 L1099 1328" stroke-width="2.6" stroke-linecap="square" stroke-linejoin="miter"/>
<path d="M1114 1328 L1114 1325" stroke-width="2.6" stroke-linecap="square" stroke-linejoin="miter"/>
<path d="M1122 1310 L1126 1306 L1134 1306 L1138 1310 L1138 1314 L1134 1317 L1129 1317" stroke-width="2.6" stroke-linecap="square" stroke-linejoin="miter"/>
<path d="M1134 1317 L1138 1321 L1138 1325 L1134 1328 L1126 1328 L1122 1325" stroke-width="2.6" stroke-linecap="square" stroke-linejoin="miter"/>
<path d="M1158 1306 L1153 1306 L1146 1313 L1146 1325 L1150 1328 L1157 1328 L1161 1325 L1161 1321 L1158 1317 L1146 1317" stroke-width="2.6" stroke-linecap="square" stroke-linejoin="miter"/>
<path d="M1112 1381 L1108 1377 L1108 1363 L1112 1360 L1116 1360 L1120 1363 L1120 1377 L1116 1381 L1112 1381" stroke-width="2.6" stroke-linecap="square" stroke-linejoin="miter"/>
<path d="M1127 1381 L1127 1377" stroke-width="2.6" stroke-linecap="square" stroke-linejoin="miter"/>
<path d="M1135 1363 L1139 1360 L1146 1360 L1150 1363 L1150 1367 L1146 1370 L1141 1370" stroke-width="2.6" stroke-linecap="square" stroke-linejoin="miter"/>
<path d="M1146 1370 L1150 1374 L1150 1377 L1146 1381 L1139 1381 L1135 1377" stroke-width="2.6" stroke-linecap="square" stroke-linejoin="miter"/>
<path d="M1162 1381 L1158 1377 L1158 1363 L1162 1360 L1166 1360 L1169 1363 L1169 1377 L1166 1381 L1162 1381" stroke-width="2.6" stroke-linecap="square" stroke-linejoin="miter"/>
<path d="M1109 1410 L1113 1406 L1113 1428" stroke-width="2.6" stroke-linecap="square" stroke-linejoin="miter"/>
<path d="M1109 1428 L1117 1428" stroke-width="2.6" stroke-linecap="square" stroke-linejoin="miter"/>
<path d="M1125 1428 L1125 1424" stroke-width="2.6" stroke-linecap="square" stroke-linejoin="miter"/>
<path d="M1144 1428 L1144 1406 L1132 1421 L1148 1421" stroke-width="2.6" stroke-linecap="square" stroke-linejoin="miter"/>
<path d="M1160 1428 L1156 1424 L1156 1410 L1160 1406 L1164 1406 L1168 1410 L1168 1424 L1164 1428 L1160 1428" stroke-width="2.6" stroke-linecap="square" stroke-linejoin="miter"/>
<path d="M1110 1478 L1106 1474 L1106 1459 L1110 1455 L1113 1455 L1117 1459 L1117 1474 L1113 1478 L1110 1478" stroke-width="2.6" stroke-linecap="square" stroke-linejoin="miter"/>
<path d="M1125 1478 L1125 1474" stroke-width="2.6" stroke-linecap="square" stroke-linejoin="miter"/>
<path d="M1133 1459 L1137 1455 L1145 1455 L1148 1459 L1148 1463 L1145 1466 L1139 1466" stroke-width="2.6" stroke-linecap="square" stroke-linejoin="miter"/>
<path d="M1145 1466 L1148 1470 L1148 1474 L1145 1478 L1137 1478 L1133 1474" stroke-width="2.6" stroke-linecap="square" stroke-linejoin="miter"/>
<path d="M1172 1455 L1156 1455 L1156 1464 L1168 1464 L1172 1468 L1172 1474 L1168 1478 L1160 1478 L1156 1474" stroke-width="2.6" stroke-linecap="square" stroke-linejoin="miter"/>
<path d="M1341 1331 L1338 1327 L1338 1312 L1341 1309 L1345 1309 L1349 1312 L1349 1327 L1345 1331 L1341 1331" stroke-width="2.6" stroke-linecap="square" stroke-linejoin="miter"/>
<path d="M1357 1331 L1357 1327" stroke-width="2.6" stroke-linecap="square" stroke-linejoin="miter"/>
<path d="M1380 1309 L1364 1309 L1364 1318 L1376 1318 L1380 1321 L1380 1327 L1376 1331 L1368 1331 L1364 1327" stroke-width="2.6" stroke-linecap="square" stroke-linejoin="miter"/>
<path d="M1400 1309 L1394 1309 L1388 1315 L1388 1327 L1391 1331 L1399 1331 L1403 1327 L1403 1323 L1399 1320 L1388 1320" stroke-width="2.6" stroke-linecap="square" stroke-linejoin="miter"/>
<path d="M1344 1379 L1340 1375 L1340 1360 L1344 1357 L1348 1357 L1351 1360 L1351 1375 L1348 1379 L1344 1379" stroke-width="2.6" stroke-linecap="square" stroke-linejoin="miter"/>
<path d="M1359 1379 L1359 1375" stroke-width="2.6" stroke-linecap="square" stroke-linejoin="miter"/>
<path d="M1382 1357 L1367 1357 L1367 1366 L1378 1366 L1382 1369 L1382 1375 L1378 1379 L1371 1379 L1367 1375" stroke-width="2.6" stroke-linecap="square" stroke-linejoin="miter"/>
<path d="M1394 1379 L1390 1375 L1390 1360 L1394 1357 L1398 1357 L1402 1360 L1402 1375 L1398 1379 L1394 1379" stroke-width="2.6" stroke-linecap="square" stroke-linejoin="miter"/>
<path d="M1340 1410 L1344 1406 L1344 1428" stroke-width="2.6" stroke-linecap="square" stroke-linejoin="miter"/>
<path d="M1340 1428 L1348 1428" stroke-width="2.6" stroke-linecap="square" stroke-linejoin="miter"/>
<path d="M1356 1428 L1356 1424" stroke-width="2.6" stroke-linecap="square" stroke-linejoin="miter"/>
<path d="M1364 1406 L1379 1406 L1368 1428" stroke-width="2.6" stroke-linecap="square" stroke-linejoin="miter"/>
<path d="M1391 1428 L1387 1424 L1387 1410 L1391 1406 L1395 1406 L1399 1410 L1399 1424 L1395 1428 L1391 1428" stroke-width="2.6" stroke-linecap="square" stroke-linejoin="miter"/>
<path d="M1342 1478 L1338 1474 L1338 1460 L1342 1456 L1346 1456 L1350 1460 L1350 1474 L1346 1478 L1342 1478" stroke-width="2.6" stroke-linecap="square" stroke-linejoin="miter"/>
<path d="M1358 1478 L1358 1474" stroke-width="2.6" stroke-linecap="square" stroke-linejoin="miter"/>
<path d="M1381 1456 L1366 1456 L1366 1465 L1377 1465 L1381 1468 L1381 1474 L1377 1478 L1370 1478 L1366 1474" stroke-width="2.6" stroke-linecap="square" stroke-linejoin="miter"/>
<path d="M1393 1478 L1389 1474 L1389 1460 L1393 1456 L1397 1456 L1401 1460 L1401 1474 L1397 1478 L1393 1478" stroke-width="2.6" stroke-linecap="square" stroke-linejoin="miter"/>
<path d="M1253 1503 L1247 1503 L1240 1510 L1240 1523 L1244 1526 L1252 1526 L1256 1523 L1256 1519 L1252 1515 L1240 1515" stroke-width="2.6" stroke-linecap="square" stroke-linejoin="miter"/>
<circle cx="1264.5" cy="1503.5" r="2.5" stroke-width="1.6"/>
</g>
<g fill="#000" stroke="none">
<path d="M1290 6.5 L1291.7 6 L1298.8 12 L1300.9 14.7 L1300.6 17.4 L1297.7 19.9 L1296 17.4 L1290.4 8.2Z" fill="#000" stroke="none"/>
<path d="M1319.4 5 L1326.2 9.5 L1323.8 10 L1312.6 22.2 L1310.8 22.2 L1317.2 12.5 L1317.4 9Z" fill="#000" stroke="none"/>
<path d="M1282.2 19 L1285.9 21.2 L1285.9 52.5 L1283.7 53.9 L1282.2 53.9Z" fill="#000" stroke="none"/>
<path d="M1327 21.8 L1329.2 19 L1331.9 22.6 L1330.9 23.2 L1330.9 50.5 L1328.4 51.8 L1327 51.8Z" fill="#000" stroke="none"/>
<path d="M1285.9 21.8 L1327 21.8 L1327 22.9 L1285.9 22.9Z" fill="#000" stroke="none"/>
<path d="M1285.9 34 L1327 34 L1327 35.9 L1285.9 35.9Z" fill="#000" stroke="none"/>
<path d="M1285.9 47.1 L1327 47.1 L1327 48.7 L1285.9 48.7Z" fill="#000" stroke="none"/>
<path d="M1304.2 22.3 L1308 22.3 L1308 77.2 L1309 77.8 L1308.6 78.8 L1305.2 79.8 L1304.2 79.8Z" fill="#000" stroke="none"/>
<path d="M1269.9 58.8 L1333.9 58.8 L1338.5 53.9 L1344.2 59.9 L1274.5 59.9 L1276 61 L1272.5 61Z" fill="#000" stroke="none"/>
<path d="M1370.41 6.9 L1375.85 9.44 L1375.34 11.98 L1366.78 29.04 L1358.07 40.65 L1351.53 50.82 L1350.81 49.73 L1359.52 36.3 L1366.05 23.96Z" fill="#000" stroke="none"/>
<path d="M1364.02 34.85 L1366.78 29.4 L1370.77 30.13 L1368.59 31.94 L1368.59 78.77 L1364.24 80.94Z" fill="#000" stroke="none"/>
<path d="M1388.19 6.9 L1395.82 11.62 L1399.81 17.06 L1399.3 21.42 L1396.69 23.09 L1395.09 21.05 L1388.56 9.07Z" fill="#000" stroke="none"/>
<path d="M1375.13 24.68 L1411.79 24.68 L1416.87 19.96 L1423.04 25.41 L1423.04 26.28 L1379.12 26.28 L1377.3 27.01Z" fill="#000" stroke="none"/>
<path d="M1379.85 34.12 L1382.75 34.26 L1388.56 45.01 L1391.82 56.62 L1391.46 60.25 L1387.32 64.03 L1386.52 57.35 L1380.21 35.21Z" fill="#000" stroke="none"/>
<path d="M1408.16 31.07 L1416 33.25 L1413.97 35.21 L1400.54 74.05 L1397.99 74.05 L1408.01 31.94Z" fill="#000" stroke="none"/>
<path d="M1371.13 73.68 L1415.78 73.68 L1420.5 68.97 L1425.94 74.41 L1425.94 75.14 L1375.85 75.14 L1373.68 75.86Z" fill="#000" stroke="none"/>
<circle cx="1446.1" cy="48.5" r="6" fill="#000" stroke="none"/>
<circle cx="1446.1" cy="67.5" r="6" fill="#000" stroke="none"/>
</g>
</svg>
</body></html>
